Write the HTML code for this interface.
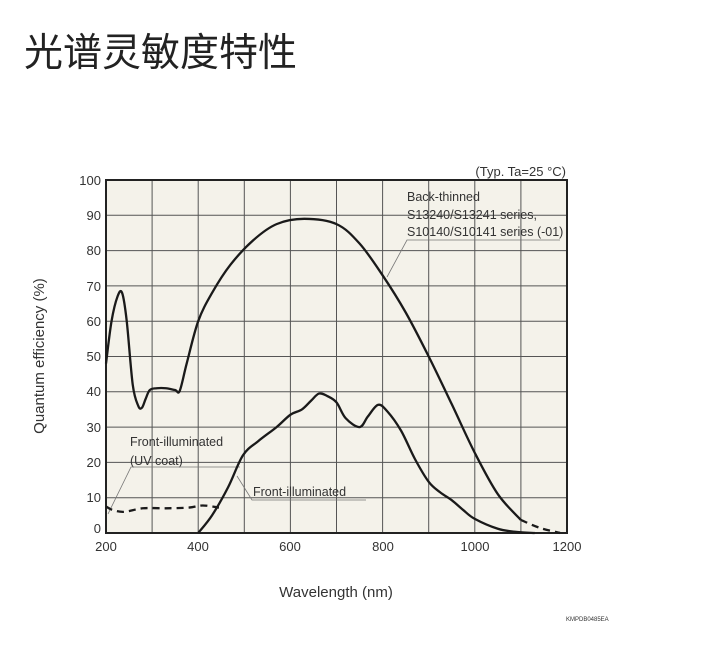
<!DOCTYPE html>
<html><head><meta charset="utf-8"><style>
body{margin:0;background:#fff;width:715px;height:649px;overflow:hidden}
svg{position:absolute;left:0;top:0}
text{font-family:"Liberation Sans","DejaVu Sans",sans-serif;fill:#333}
</style></head><body>
<svg width="715" height="649" viewBox="0 0 715 649">
<text x="24" y="66" style="font-family:'Liberation Sans','Noto Sans CJK SC',sans-serif;font-size:39px;fill:#222">光谱灵敏度特性</text>
<rect x="106" y="180" width="461" height="353" fill="#f4f2ea"/>
<g stroke="#555" stroke-width="1">
<line x1="152.1" y1="180" x2="152.1" y2="533"/><line x1="198.2" y1="180" x2="198.2" y2="533"/>
<line x1="244.3" y1="180" x2="244.3" y2="533"/><line x1="290.4" y1="180" x2="290.4" y2="533"/>
<line x1="336.5" y1="180" x2="336.5" y2="533"/><line x1="382.6" y1="180" x2="382.6" y2="533"/>
<line x1="428.7" y1="180" x2="428.7" y2="533"/><line x1="474.8" y1="180" x2="474.8" y2="533"/>
<line x1="520.9" y1="180" x2="520.9" y2="533"/>
<line x1="106" y1="215.3" x2="567" y2="215.3"/><line x1="106" y1="250.6" x2="567" y2="250.6"/>
<line x1="106" y1="285.9" x2="567" y2="285.9"/><line x1="106" y1="321.2" x2="567" y2="321.2"/>
<line x1="106" y1="356.5" x2="567" y2="356.5"/><line x1="106" y1="391.8" x2="567" y2="391.8"/>
<line x1="106" y1="427.1" x2="567" y2="427.1"/><line x1="106" y1="462.4" x2="567" y2="462.4"/>
<line x1="106" y1="497.7" x2="567" y2="497.7"/>
</g>
<rect x="106" y="180" width="461" height="353" fill="none" stroke="#222" stroke-width="2"/>
<g font-size="13" text-anchor="end">
<text x="101" y="185">100</text><text x="101" y="220">90</text><text x="101" y="255">80</text>
<text x="101" y="291">70</text><text x="101" y="326">60</text><text x="101" y="361">50</text>
<text x="101" y="396">40</text><text x="101" y="432">30</text><text x="101" y="467">20</text>
<text x="101" y="502">10</text><text x="101" y="533">0</text>
</g>
<g font-size="13" text-anchor="middle">
<text x="106" y="551">200</text><text x="198" y="551">400</text><text x="290" y="551">600</text>
<text x="383" y="551">800</text><text x="475" y="551">1000</text><text x="567" y="551">1200</text>
</g>
<text x="336" y="597" font-size="15" text-anchor="middle">Wavelength (nm)</text>
<text transform="translate(44,356) rotate(-90)" font-size="15" text-anchor="middle">Quantum efficiency (%)</text>
<text x="566" y="176" font-size="13" text-anchor="end">(Typ. Ta=25 °C)</text>
<text x="407" y="201" font-size="12.5">Back-thinned</text>
<text x="407" y="219" font-size="12.5">S13240/S13241 series,</text>
<text x="407" y="236" font-size="12.5">S10140/S10141 series (-01)</text>
<text x="130" y="446" font-size="12.5">Front-illuminated</text>
<text x="130" y="465" font-size="12.5">(UV coat)</text>
<text x="253" y="496" font-size="12.5">Front-illuminated</text>
<text x="566" y="621" font-size="6" fill="#555">KMPDB0485EA</text>
<g stroke="#777" stroke-width="0.8" fill="none">
<polyline points="387,277 407,240 560,240"/>
<polyline points="108,514 131,467 240,467"/>
<polyline points="237,476 252,500 366,500"/>
</g>
<g fill="none" stroke="#1a1a1a" stroke-width="2.3" stroke-linejoin="round">
<path id="p1"/><path id="p2" stroke-dasharray="7,5"/><path id="p3" stroke-dasharray="7,5"/><path id="p4"/>
</g>
</svg>
<script>
function X(n){return 106+(n-200)*0.461}
function Y(v){return 533-v*3.53}
function cr(pts){pts=pts.map(p=>[X(p[0]),Y(p[1])]);let d="M"+pts[0][0]+","+pts[0][1];
for(let i=0;i<pts.length-1;i++){const p0=pts[i-1]||pts[i],p1=pts[i],p2=pts[i+1],p3=pts[i+2]||p2;
const c1=[p1[0]+(p2[0]-p0[0])/6,p1[1]+(p2[1]-p0[1])/6],c2=[p2[0]-(p3[0]-p1[0])/6,p2[1]-(p3[1]-p1[1])/6];
d+=" C"+c1+" "+c2+" "+p2;}return d}
document.getElementById("p1").setAttribute("d",cr([[200,48],[212,60],[225,67],[235,68],[245,60],[258,42],[270,36],[278,35.5],[286,38],[295,40.5],[310,41],[330,41],[350,40.5],[360,40.3],[375,48],[400,60],[430,68],[470,76],[520,83],[570,87.5],[630,89],[700,87.5],[750,82],[800,73],[850,62.5],[900,50],[950,36.5],[1000,22.7],[1050,11],[1100,3.7]]));
document.getElementById("p2").setAttribute("d",cr([[1100,3.7],[1140,1.5],[1185,0]]));
document.getElementById("p3").setAttribute("d",cr([[200,7.5],[215,6.5],[240,6],[280,7],[330,7],[380,7.2],[410,7.8],[445,7.2]]));
document.getElementById("p4").setAttribute("d",cr([[400,0],[430,5],[465,13],[497,22],[530,26],[570,30],[600,33.5],[625,35],[645,37.5],[662,39.5],[680,38.8],[700,37],[720,32.5],[750,30],[768,33],[790,36.3],[810,34.5],[840,29],[870,21],[900,14.5],[925,11.5],[950,9.3],[975,6.5],[1000,4],[1050,1.2],[1090,0.3],[1130,0]]));
</script>
</body></html>
